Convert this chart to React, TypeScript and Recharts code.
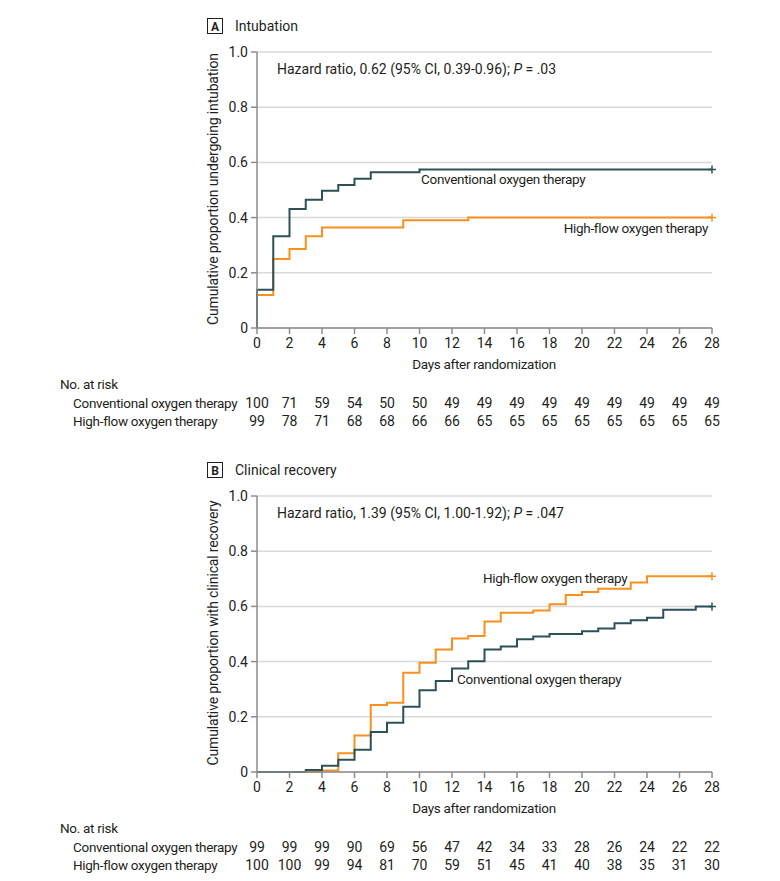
import { LineChart, Line, XAxis, YAxis, CartesianGrid } from "recharts";

const FONT = "Roboto, 'Liberation Sans', sans-serif";
const TEAL = "#2c5257";
const ORANGE = "#f7901e";
const INK = "#231f20";

const dayTicks = [0, 2, 4, 6, 8, 10, 12, 14, 16, 18, 20, 22, 24, 26, 28];
const yTicks = [0, 0.2, 0.4, 0.6, 0.8, 1];

// panel A: intubation
const intubationConventional = [
  { day: 0, p: 0 },
  { day: 0, p: 0.139 },
  { day: 1, p: 0.332 },
  { day: 2, p: 0.431 },
  { day: 3, p: 0.465 },
  { day: 4, p: 0.497 },
  { day: 5, p: 0.518 },
  { day: 6, p: 0.541 },
  { day: 7, p: 0.564 },
  { day: 10, p: 0.574 },
  { day: 28, p: 0.574 },
];
const intubationHighFlow = [
  { day: 0, p: 0 },
  { day: 0, p: 0.12 },
  { day: 1, p: 0.25 },
  { day: 2, p: 0.286 },
  { day: 3, p: 0.332 },
  { day: 4, p: 0.364 },
  { day: 9, p: 0.39 },
  { day: 13, p: 0.4 },
  { day: 28, p: 0.4 },
];
const intubationRiskConventional = [100, 71, 59, 54, 50, 50, 49, 49, 49, 49, 49, 49, 49, 49, 49];
const intubationRiskHighFlow = [99, 78, 71, 68, 68, 66, 66, 65, 65, 65, 65, 65, 65, 65, 65];

// panel B: clinical recovery
const recoveryConventional = [
  { day: 0, p: 0 },
  { day: 3, p: 0.007 },
  { day: 4, p: 0.023 },
  { day: 5, p: 0.044 },
  { day: 6, p: 0.081 },
  { day: 7, p: 0.145 },
  { day: 8, p: 0.178 },
  { day: 9, p: 0.236 },
  { day: 10, p: 0.296 },
  { day: 11, p: 0.33 },
  { day: 12, p: 0.375 },
  { day: 13, p: 0.401 },
  { day: 14, p: 0.444 },
  { day: 15, p: 0.455 },
  { day: 16, p: 0.481 },
  { day: 17, p: 0.491 },
  { day: 18, p: 0.5 },
  { day: 20, p: 0.51 },
  { day: 21, p: 0.52 },
  { day: 22, p: 0.539 },
  { day: 23, p: 0.55 },
  { day: 24, p: 0.559 },
  { day: 25, p: 0.588 },
  { day: 27, p: 0.6 },
  { day: 28, p: 0.6 },
];
const recoveryHighFlow = [
  { day: 0, p: 0 },
  { day: 4, p: 0.005 },
  { day: 5, p: 0.068 },
  { day: 6, p: 0.132 },
  { day: 7, p: 0.243 },
  { day: 8, p: 0.251 },
  { day: 9, p: 0.36 },
  { day: 10, p: 0.396 },
  { day: 11, p: 0.444 },
  { day: 12, p: 0.484 },
  { day: 13, p: 0.493 },
  { day: 14, p: 0.545 },
  { day: 15, p: 0.577 },
  { day: 17, p: 0.585 },
  { day: 18, p: 0.608 },
  { day: 19, p: 0.641 },
  { day: 20, p: 0.652 },
  { day: 21, p: 0.664 },
  { day: 23, p: 0.687 },
  { day: 24, p: 0.709 },
  { day: 28, p: 0.709 },
];
const recoveryRiskConventional = [99, 99, 99, 90, 69, 56, 47, 42, 34, 33, 28, 26, 24, 22, 22];
const recoveryRiskHighFlow = [100, 100, 99, 94, 81, 70, 59, 51, 45, 41, 40, 38, 35, 31, 30];

// censor mark "+" on the last point only
const censorDot = (color: string, count: number) => (props: any) => {
  const { cx, cy, index } = props;
  if (index !== count - 1) return <g key={`d${index}`} />;
  return (
    <path
      key={`d${index}`}
      d={`M${cx - 4},${cy} H${cx + 4} M${cx},${cy - 4} V${cy + 4}`}
      stroke={color}
      strokeWidth={1.5}
    />
  );
};

// tick label + the two "No. at risk" rows under it
const dayTick = (riskA: number[], riskB: number[]) => (props: any) => {
  const { x, y, payload } = props;
  const i = dayTicks.indexOf(payload.value);
  const style = { fontFamily: FONT, fontSize: 14, fill: INK };
  return (
    <g>
      <text x={x} y={y + 9} textAnchor="middle" dominantBaseline="central" style={style}>
        {payload.value}
      </text>
      <text x={x} y={y + 68.5} textAnchor="middle" dominantBaseline="central" style={style}>
        {riskA[i]}
      </text>
      <text x={x} y={y + 86.5} textAnchor="middle" dominantBaseline="central" style={style}>
        {riskB[i]}
      </text>
    </g>
  );
};

function KmPanel({
  top,
  conventional,
  highFlow,
  riskConventional,
  riskHighFlow,
}: {
  top: number;
  conventional: { day: number; p: number }[];
  highFlow: { day: number; p: number }[];
  riskConventional: number[];
  riskHighFlow: number[];
}) {
  return (
    <div style={{ position: "absolute", left: 0, top }}>
      <LineChart width={780} height={440} margin={{ top: 52, right: 68, left: 0, bottom: 12 }}>
        <CartesianGrid horizontal vertical={false} stroke="#d9d9d9" strokeWidth={1.5} />
        <XAxis
          type="number"
          dataKey="day"
          domain={[0, 28]}
          ticks={dayTicks}
          interval={0}
          height={100}
          tickSize={6}
          tickMargin={0}
          stroke="#8c8c8c"
          strokeWidth={1.5}
          tick={dayTick(riskConventional, riskHighFlow)}
        />
        <YAxis
          type="number"
          domain={[0, 1]}
          ticks={yTicks}
          width={257}
          tickSize={6}
          tickMargin={3}
          stroke="#8c8c8c"
          strokeWidth={1.5}
          tick={{ fontFamily: FONT, fontSize: 14, fill: INK }}
          tickFormatter={(v: number) => (v === 0 ? "0" : v.toFixed(1))}
        />
        <Line
          data={highFlow}
          dataKey="p"
          type="stepAfter"
          stroke={ORANGE}
          strokeWidth={2}
          dot={censorDot(ORANGE, highFlow.length)}
          activeDot={false}
          isAnimationActive={false}
        />
        <Line
          data={conventional}
          dataKey="p"
          type="stepAfter"
          stroke={TEAL}
          strokeWidth={2}
          dot={censorDot(TEAL, conventional.length)}
          activeDot={false}
          isAnimationActive={false}
        />
      </LineChart>
    </div>
  );
}

const narrow = { fontFamily: FONT, fontSize: 13.5, fill: INK, letterSpacing: -0.3 };

function Notes({ top, letter, title, yLabel, hr, hrP }: any) {
  const t = { fontFamily: FONT, fontSize: 14, fill: INK };
  return (
    <g transform={`translate(0,${top})`}>
      <rect x={207.5} y={18.5} width={15} height={15} fill="none" stroke={INK} strokeWidth={1} />
      <text x={215} y={26.5} textAnchor="middle" dominantBaseline="central" style={{ ...t, fontSize: 12, fontWeight: 700 }}>
        {letter}
      </text>
      <text x={235} y={26} dominantBaseline="central" style={t}>
        {title}
      </text>
      <text x={277} y={68.5} dominantBaseline="central" style={t}>
        {hr}
        <tspan fontStyle="italic">P</tspan>
        {hrP}
      </text>
      <text
        transform={`translate(213,189) rotate(-90)`}
        textAnchor="middle"
        dominantBaseline="central"
        style={{ ...t, letterSpacing: -0.15 }}
      >
        {yLabel}
      </text>
      <text x={484} y={364} textAnchor="middle" dominantBaseline="central" style={narrow}>
        Days after randomization
      </text>
      <text x={60} y={384} dominantBaseline="central" style={narrow}>
        No. at risk
      </text>
      <text x={73} y={402.5} dominantBaseline="central" style={narrow}>
        Conventional oxygen therapy
      </text>
      <text x={73} y={420.5} dominantBaseline="central" style={narrow}>
        High-flow oxygen therapy
      </text>
    </g>
  );
}

export default function App() {
  return (
    <div style={{ position: "absolute", left: 0, top: 0, width: 780, height: 881, background: "#fff" }}>
      <KmPanel
        top={0}
        conventional={intubationConventional}
        highFlow={intubationHighFlow}
        riskConventional={intubationRiskConventional}
        riskHighFlow={intubationRiskHighFlow}
      />
      <KmPanel
        top={444}
        conventional={recoveryConventional}
        highFlow={recoveryHighFlow}
        riskConventional={recoveryRiskConventional}
        riskHighFlow={recoveryRiskHighFlow}
      />
      <svg
        width={780}
        height={881}
        style={{ position: "absolute", left: 0, top: 0, pointerEvents: "none" }}
      >
        <Notes
          top={0}
          letter="A"
          title="Intubation"
          yLabel="Cumulative proportion undergoing intubation"
          hr="Hazard ratio, 0.62 (95% CI, 0.39-0.96); "
          hrP=" = .03"
        />
        <Notes
          top={444}
          letter="B"
          title="Clinical recovery"
          yLabel="Cumulative proportion with clinical recovery"
          hr="Hazard ratio, 1.39 (95% CI, 1.00-1.92); "
          hrP=" = .047"
        />
        {/* curve labels */}
        <text x={421} y={179} dominantBaseline="central" style={narrow}>
          Conventional oxygen therapy
        </text>
        <text x={708} y={228} textAnchor="end" dominantBaseline="central" style={narrow}>
          High-flow oxygen therapy
        </text>
        <text x={483} y={578} dominantBaseline="central" style={narrow}>
          High-flow oxygen therapy
        </text>
        <text x={457} y={679} dominantBaseline="central" style={narrow}>
          Conventional oxygen therapy
        </text>
      </svg>
    </div>
  );
}
